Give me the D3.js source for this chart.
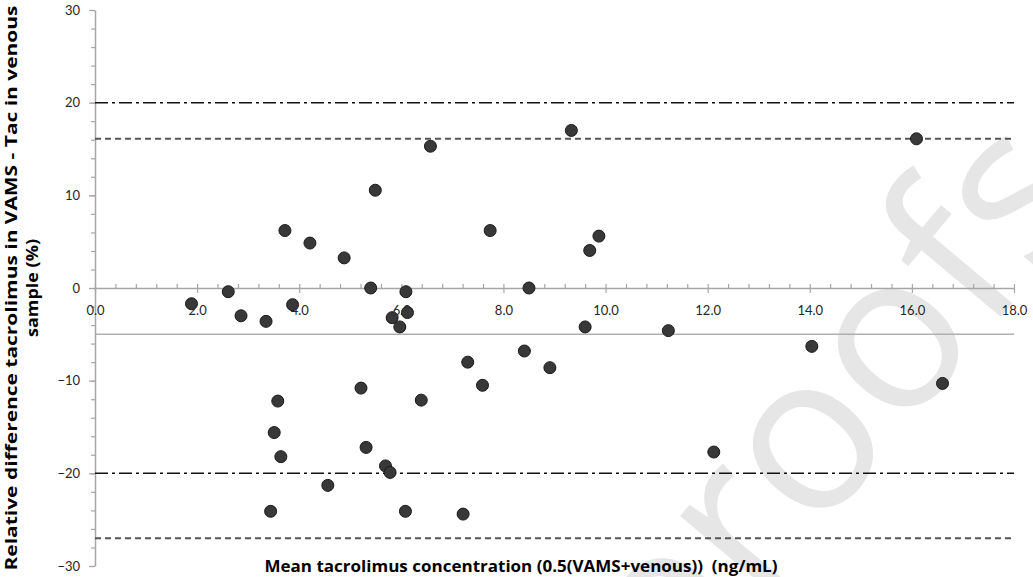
<!DOCTYPE html>
<html>
<head>
<meta charset="utf-8">
<script src="https://cdn.jsdelivr.net/npm/d3@7/dist/d3.min.js"></script>
<style>
  html, body { margin: 0; padding: 0; background: #fff; }
  svg { display: block; }
</style>
</head>
<body>
<svg id="chart" width="1033" height="577"></svg>
<script>
// ---- data ----
const meanConc = [1.89, 2.61, 2.86, 3.35, 3.72, 3.87, 4.21, 4.88, 5.40, 5.49, 6.57, 5.82, 5.97, 6.09,
  6.12, 9.33, 7.74, 9.87, 9.69, 8.50, 9.60, 8.41, 7.30, 8.91, 7.59, 6.39, 6.08, 7.21, 5.21, 3.58,
  3.51, 5.31, 3.64, 5.69, 5.78, 4.56, 3.44, 16.09, 11.23, 14.04, 16.60, 12.12];
const relDiff = [-1.7, -0.4, -3.0, -3.6, 6.2, -1.8, 4.85, 3.25, 0.0, 10.55, 15.3, -3.2, -4.2, -0.4,
  -2.65, 17.0, 6.2, 5.6, 4.05, 0.0, -4.2, -6.8, -8.0, -8.6, -10.5, -12.1, -24.1, -24.4, -10.8, -12.2,
  -15.6, -17.2, -18.2, -19.2, -19.9, -21.3, -24.1, 16.1, -4.6, -6.3, -10.3, -17.7];
const acceptLimits = [20, -20];        // dash-dot lines
const agreementLimits = [16.1, -27.0]; // dashed lines
const meanBias = [-5.0];               // grey solid line
const xMajorTicks = [0, 2, 4, 6, 8, 10, 12, 14, 16, 18];
const yMajorTicks = [-30, -20, -10, 0, 10, 20, 30];
const xTitle = "Mean tacrolimus concentration (0.5(VAMS+venous))  (ng/mL)";
const yTitleLines = ["Relative difference tacrolimus in VAMS - Tac in venous", "sample (%)"];
const watermark = "proofs";

// ---- layout ----
const svg = d3.select("#chart");
const FONT = "Lato, 'Open Sans', 'DejaVu Sans', sans-serif";
const TFONT = "'Open Sans', Lato, 'DejaVu Sans', sans-serif";
const x = d3.scaleLinear().domain([0, 18]).range([95, 1014]);
const y = d3.scaleLinear().domain([-30, 30]).range([566, 10]);
const axisColor = "#a6a6a6";

// watermark: place so that the two "o" glyphs sit where they are in the reference
const wm = svg.append("text")
  .attr("font-family", "'Open Sans', sans-serif")
  .attr("font-size", 200)
  .attr("fill", "#e6e6e6")
  .text(watermark);
{
  const oAdv = wm.node().getSubStringLength(2, 1);
  const fs = 200 * 132 / oAdv;
  wm.attr("font-size", fs);
  const s = wm.node().getStartPositionOfChar(3).x;
  wm.attr("transform", `translate(855,398) rotate(-50) translate(${-s},${0.27 * fs})`);
}

// mean bias line
svg.append("g").selectAll("line").data(meanBias).join("line")
  .attr("x1", x(0)).attr("x2", x(18))
  .attr("y1", d => y(d)).attr("y2", d => y(d))
  .attr("stroke", "#b0b0b0").attr("stroke-width", 1.5);

// y axis
const yMinor = d3.range(-15, 16).map(i => i * 2);
const gyMinor = svg.append("g").attr("transform", `translate(${x(0)},0)`)
  .call(d3.axisLeft(y).tickValues(yMinor).tickSize(4).tickFormat(""));
gyMinor.select(".domain").remove();
const gy = svg.append("g").attr("transform", `translate(${x(0)},0)`)
  .call(d3.axisLeft(y).tickValues(yMajorTicks).tickSize(6).tickSizeOuter(0).tickPadding(9).tickFormat(d3.format("d")));
svg.selectAll("g.tick line").attr("stroke", axisColor).attr("stroke-width", 1.2);
gy.select(".domain").attr("stroke", axisColor).attr("stroke-width", 1.5);
gy.selectAll("text").attr("font-family", FONT).attr("font-size", 13).attr("fill", "#262626");

// x axis at y=0
const xMinor = d3.range(0, 46).map(i => i * 0.4);
const gxMinor = svg.append("g").attr("transform", `translate(0,${y(0)})`)
  .call(d3.axisTop(x).tickValues(xMinor).tickSize(4).tickFormat(""));
gxMinor.select(".domain").remove();
gxMinor.selectAll("line").attr("stroke", axisColor).attr("stroke-width", 1.2);
const gx = svg.append("g").attr("transform", `translate(0,${y(0)})`)
  .call(d3.axisBottom(x).tickValues(xMajorTicks).tickSize(5).tickSizeOuter(0).tickPadding(13).tickFormat(d3.format(".1f")));
gx.select(".domain").attr("stroke", axisColor).attr("stroke-width", 1.5);
gx.selectAll("line").attr("stroke", axisColor).attr("stroke-width", 1.2);
gx.selectAll("text").attr("font-family", FONT).attr("font-size", 13).attr("fill", "#262626");

// limits of agreement (dashed)
svg.append("g").selectAll("line").data(agreementLimits).join("line")
  .attr("x1", x(0)).attr("x2", x(18))
  .attr("y1", d => y(d)).attr("y2", d => y(d))
  .attr("stroke", "#555").attr("stroke-width", 2)
  .attr("stroke-dasharray", "6,4");

// acceptance limits (dash-dot)
svg.append("g").selectAll("line").data(acceptLimits).join("line")
  .attr("x1", x(0)).attr("x2", x(18))
  .attr("y1", d => y(d)).attr("y2", d => y(d))
  .attr("stroke", "#111").attr("stroke-width", 1.5)
  .attr("stroke-dasharray", "13,4,3,4");

// points
svg.append("g").selectAll("circle").data(meanConc.map((v, i) => [v, relDiff[i]])).join("circle")
  .attr("cx", d => x(d[0])).attr("cy", d => y(d[1])).attr("r", 6)
  .attr("fill", "#383838").attr("stroke", "#1a1a1a").attr("stroke-width", 1);

// x title
svg.append("text")
  .attr("x", 521).attr("y", 572)
  .attr("text-anchor", "middle")
  .attr("font-family", TFONT).attr("font-weight", "bold").attr("font-size", 16.5)
  .attr("fill", "#000")
  .attr("textLength", 513).attr("lengthAdjust", "spacingAndGlyphs")
  .style("white-space", "pre")
  .text(xTitle);

// y title
const ytG = svg.append("g").attr("transform", "translate(0,288) rotate(-90)");
ytG.append("text").attr("x", 0).attr("y", 17)
  .attr("text-anchor", "middle")
  .attr("font-family", TFONT).attr("font-weight", "bold").attr("font-size", 16.5)
  .attr("fill", "#000")
  .attr("textLength", 565).attr("lengthAdjust", "spacingAndGlyphs")
  .text(yTitleLines[0]);
ytG.append("text").attr("x", 0).attr("y", 38)
  .attr("text-anchor", "middle")
  .attr("font-family", TFONT).attr("font-weight", "bold").attr("font-size", 16.5)
  .attr("fill", "#000")
  .attr("textLength", 98).attr("lengthAdjust", "spacingAndGlyphs")
  .text(yTitleLines[1]);
</script>
</body>
</html>
